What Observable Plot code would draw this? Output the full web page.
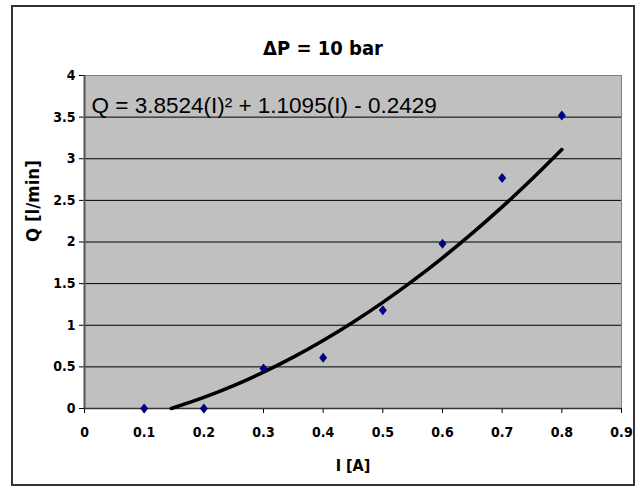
<!DOCTYPE html>
<html><head><meta charset="utf-8">
<script src="https://cdn.jsdelivr.net/npm/d3@7"></script>
<script src="https://cdn.jsdelivr.net/npm/@observablehq/plot@0.6"></script>
<style>
body{margin:0;background:#fff;}
#wrap{position:relative;width:644px;height:490px;}
#frame{position:absolute;left:11px;top:5px;width:620px;height:477px;border:2px solid #333;box-sizing:content-box;}
#wrap svg{position:absolute;left:0;top:0;}
</style></head><body><div id="wrap"><div id="frame"></div></div>
<script>
const current = [0.1, 0.2, 0.3, 0.4, 0.5, 0.6, 0.7, 0.8];
const flow = [0, 0, 0.48, 0.61, 1.18, 1.98, 2.77, 3.52];
const trendI = [0.1455, 0.2, 0.25, 0.3, 0.35, 0.4, 0.45, 0.5, 0.55, 0.6, 0.65, 0.7, 0.75, 0.8];
const trendQ = [0, 0.1331, 0.2753, 0.4367, 0.6173, 0.8173, 1.0365, 1.2750, 1.5327, 1.8097, 2.1059, 2.4215, 2.7562, 3.1102];
const xTicks = [0, 0.1, 0.2, 0.3, 0.4, 0.5, 0.6, 0.7, 0.8, 0.9];
const yTicks = [0, 0.5, 1, 1.5, 2, 2.5, 3, 3.5, 4];
const title = "ΔP = 10 bar";
const equation = "Q = 3.8524(I)² + 1.1095(I) - 0.2429";
const xLabel = "I [A]";
const yLabel = "Q [l/min]";

const points = current.map((x, i) => ({x, y: flow[i]}));
const trend = trendI.map((x, i) => ({x, y: trendQ[i]}));

const narrow = '"DejaVu Sans Condensed","Liberation Sans Narrow","Arial Narrow","Liberation Sans",sans-serif';
const regular = '"Liberation Sans",Arial,sans-serif';

const excelDiamond = {
  draw(ctx, size) {
    const s = Math.sqrt(size / Math.PI);
    ctx.moveTo(0, -s * 1.25);
    ctx.lineTo(s, 0);
    ctx.lineTo(0, s * 1.25);
    ctx.lineTo(-s, 0);
    ctx.closePath();
  }
};

const plot = Plot.plot({
  width: 644, height: 490,
  marginLeft: 84, marginRight: 23, marginTop: 75, marginBottom: 82,
  style: {fontFamily: narrow, fontSize: "14px", fontWeight: "bold", color: "#000", background: "transparent", overflow: "visible"},
  x: {domain: [0, 0.9]},
  y: {domain: [0, 4]},
  marks: [
    Plot.frame({fill: "#c0c0c0", stroke: "#808080"}),
    Plot.gridY(yTicks.slice(1, -1), {stroke: "#000", strokeOpacity: 1, strokeWidth: 1}),
    Plot.axisX(xTicks, {tickSize: 5, tickPadding: 14, label: null, fontSize: 14, fontWeight: "bold", fontFamily: narrow, tickFormat: d => String(d), stroke: "#000"}),
    Plot.axisY(yTicks, {tickSize: 5, tickPadding: 4, label: null, fontSize: 14, fontWeight: "bold", fontFamily: narrow, tickFormat: d => String(d), stroke: "#000"}),
    Plot.ruleX([0], {stroke: "#555", strokeWidth: 2}),
    Plot.ruleY([0], {stroke: "#333", strokeWidth: 1.5}),
    Plot.line(trend, {x: "x", y: "y", stroke: "#000", strokeWidth: 3.6, curve: "catmull-rom"}),
    Plot.dot(points, {x: "x", y: "y", symbol: excelDiamond, r: 4, fill: "#000080", stroke: "none"}),
    Plot.text([title], {frameAnchor: "top", dy: -35, dx: -30, fontSize: 20, fontWeight: "bold", fontFamily: narrow, fill: "#000"}),
    Plot.text([equation], {frameAnchor: "top-left", dx: 7, dy: 22, fontSize: 22.5, fontWeight: "normal", fontFamily: regular, fill: "#000", textAnchor: "start"}),
    Plot.text([xLabel], {frameAnchor: "bottom", dy: 62, fontSize: 16, fontWeight: "bold", fontFamily: narrow, fill: "#000"}),
    Plot.text([yLabel], {frameAnchor: "left", dx: -51, rotate: -90, fontSize: 18.5, fontWeight: "bold", fontFamily: narrow, fill: "#000"})
  ]
});
document.getElementById("wrap").appendChild(plot);
</script></body></html>
